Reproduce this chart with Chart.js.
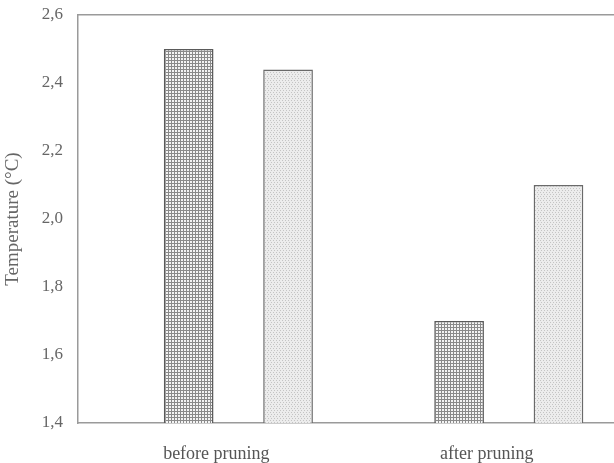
<!DOCTYPE html>
<html>
<head>
<meta charset="utf-8">
<script src="https://cdn.jsdelivr.net/npm/chart.js@4/dist/chart.umd.min.js"></script>
<style>
  html, body { margin: 0; padding: 0; background: #fff; overflow: hidden; }
  #wrap { width: 644px; height: 463px; }
</style>
</head>
<body>
<div id="wrap"><canvas id="chart"></canvas></div>
<script>
var categories = [ "before pruning", "after pruning" ];
var series1 = [ 2.5, 1.7 ];
var series2 = [ 2.44, 2.1 ];
var yTitle = "Temperature (\u00b0C)";

// little tiles used as bar fills
function makePattern(w, h, draw) {
	var c = document.createElement("canvas");
	c.width = w;
	c.height = h;
	draw(c.getContext("2d"));
	return c.getContext("2d").createPattern(c, "repeat");
}

var gridFill = makePattern(3, 3, function(g) {
	g.fillStyle = "#f4f4f4";
	g.fillRect(0, 0, 3, 3);
	g.fillStyle = "#8a8a8a";
	g.fillRect(0, 0, 3, 1);
	g.fillRect(0, 0, 1, 3);
});

var dotFill = makePattern(3, 4, function(g) {
	g.fillStyle = "#ececec";
	g.fillRect(0, 0, 3, 4);
	g.fillStyle = "#c4c4c4";
	g.fillRect(0, 0, 1, 1);
	g.fillRect(1, 2, 1, 1);
});

function points(values) {
	return values.map(function(v, i) { return { x : i, y : v }; });
}

new Chart(document.getElementById("chart"), {
	type : 'bar',
	data : {
		datasets : [{
			data : points(series1),
			backgroundColor : gridFill,
			borderColor : "#5a5a5a",
			borderWidth : 1.5,
			categoryPercentage : 0.735,
			barPercentage : 0.5
		}, {
			data : points(series2),
			backgroundColor : dotFill,
			borderColor : "#6a6a6a",
			borderWidth : 1.5,
			categoryPercentage : 0.735,
			barPercentage : 0.5
		}]
	},
	options : {
		responsive : true,
		maintainAspectRatio : false,
		animation : false,
		layout : { padding : { top : 15, left : 0, right : 0, bottom : 0 } },
		plugins : {
			legend : { display : false },
			tooltip : { enabled : false }
		},
		scales : {
			x : {
				type : 'linear',
				offset : false,
				min : -0.593,
				max : 1.5,
				grid : { display : false, drawTicks : false },
				border : { display : true, color : "#9a9a9a", width : 1.5 },
				ticks : {
					stepSize : 1,
					padding : 20,
					labelOffset : -22,
					maxRotation : 0,
					color : "#555",
					font : { family : "'Liberation Serif'", size : 18 },
					callback : function(v) { return categories[v] || ""; }
				},
				afterBuildTicks : function(axis) {
					axis.ticks = axis.ticks.filter(function(t) { return Number.isInteger(t.value); });
				},
				afterFit : function(axis) {
					axis.height = 40;
					axis.paddingLeft = 0;
					axis.paddingRight = 0;
				}
			},
			x2 : {
				type : 'linear',
				position : 'top',
				grid : { display : false, drawTicks : false },
				border : { display : true, color : "#9a9a9a", width : 1.5 },
				ticks : { display : false },
				afterFit : function(axis) { axis.height = 0; }
			},
			y : {
				min : 1.4,
				max : 2.6,
				beginAtZero : false,
				grid : { display : false, drawTicks : false },
				border : { display : true, color : "#9a9a9a", width : 1.5 },
				ticks : {
					stepSize : 0.2,
					padding : 15,
					color : "#666",
					font : { family : "'Liberation Serif'", size : 17 },
					callback : function(v) { return v.toFixed(1).replace(".", ","); }
				},
				title : {
					display : true,
					text : yTitle,
					color : "#666",
					padding : { top : 2, bottom : 0 },
					font : { family : "'Liberation Serif'", size : 19 }
				},
				afterFit : function(axis) {
					axis.width = 78;
					axis.paddingTop = 0;
					axis.paddingBottom = 0;
				}
			}
		}
	}
});
</script>
</body>
</html>
